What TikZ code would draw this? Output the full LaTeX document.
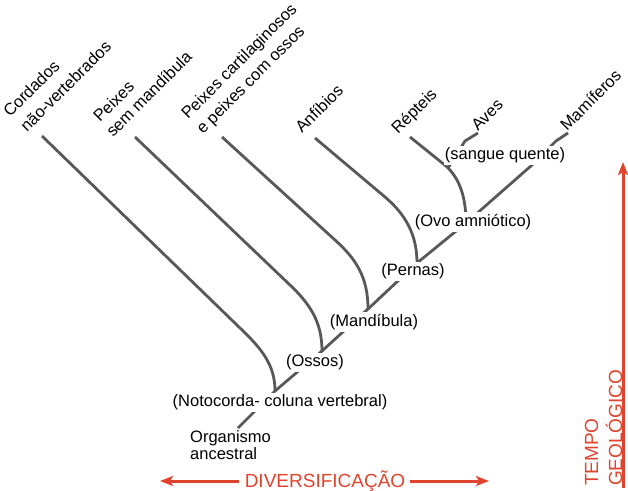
\documentclass[tikz,border=0pt]{standalone}
\usepackage{fontspec}
\setmainfont{Liberation Sans}
\usetikzlibrary{arrows.meta}
\definecolor{branchgray}{RGB}{88,88,88}
\definecolor{accentred}{RGB}{224,68,46}
\begin{document}
\begin{tikzpicture}[x=1pt,y=-1pt,
  branch/.style={draw=branchgray, line width=2.8pt},
  taxon/.style={font=\fontsize{16.5}{20}\selectfont, rotate=45, anchor=base west, inner sep=0pt},
  trait/.style={font=\fontsize{16.5}{20}\selectfont, anchor=base, fill=white, inner xsep=1pt, inner ysep=2pt},
  plain/.style={font=\fontsize{16.5}{20}\selectfont, anchor=base west, inner sep=0pt},
  axislabel/.style={font=\fontsize{19}{23}\selectfont, text=accentred, inner sep=0pt},
  axisarrow/.style={draw=accentred, line width=3pt, -{Stealth[length=13pt,width=10pt,inset=3pt]}}
]
\useasboundingbox (0,0) rectangle (628,490);

% junctions and ends
\coordinate (root) at (238,428);
\coordinate (j1) at (275,391);
\coordinate (j2) at (322,351);
\coordinate (j3) at (368,309);
\coordinate (j4) at (417,263);
\coordinate (j5) at (466,223);
\coordinate (mamtip) at (568,133);
\coordinate (avetip) at (478,133);
\coordinate (avebase) at (448,168);
\coordinate (s1) at (42,136);
\coordinate (s2) at (135,137);
\coordinate (s3) at (222,137);
\coordinate (s4) at (315,138);
\coordinate (s5) at (410,137);

% trunk
\draw[branch] (root) -- (j1) -- (j2) -- (j3) -- (j4) -- (j5) -- (532,165) -- (556,141) -- (mamtip);
% lineages
\draw[branch] (s1) -- (240,328) .. controls (262,349) and (275,365) .. (j1);
\draw[branch] (s2) -- (290,285) .. controls (310,304) and (322,322) .. (j2);
\draw[branch] (s3) -- (335,240) .. controls (356,259) and (368,277) .. (j3);
\draw[branch] (s4) -- (385,197) .. controls (405,214) and (417,234) .. (j4);
\draw[branch] (s5) -- (446,166) .. controls (458,177) and (466,194) .. (j5);
\draw[branch] (avebase) -- (465,141) -- (avetip);

% taxa
\node[taxon] (cord1) at (10,118) {Cordados};
\node[taxon] (cord2) at (27,133) {não-vertebrados};
\node[taxon] (pex1) at (100,123) {Peixes};
\node[taxon] (pex2) at (113,138) {sem mandíbula};
\node[taxon] (cart1) at (188,120) {Peixes cartilaginosos};
\node[taxon] (cart2) at (203,135) {e peixes com ossos};
\node[taxon] (anf) at (302,134) {Anfíbios};
\node[taxon] (rep) at (398,135) {Répteis};
\node[taxon] (ave) at (478,132) {Aves};
\node[taxon] (mam) at (567,132) {Mamíferos};

% traits
\node[trait] (sangue) at (505,159.5) {(sangue quente)};
\node[trait] (ovo) at (473,226.5) {(Ovo amniótico)};
\node[trait] (pernas) at (413,275.5) {(Pernas)};
\node[trait] (mand) at (374,326.5) {(Mandíbula)};
\node[trait] (ossos) at (315,366.5) {(Ossos)};
\node[trait] (noto) at (280,406.5) {(Notocorda- coluna vertebral)};
\node[plain] (org1) at (190,442) {Organismo};
\node[plain] (org2) at (190,459) {ancestral};

% axes
\node[axislabel, anchor=base] (div) at (325,487) {DIVERSIFICAÇÃO};
\coordinate (divleft) at (160,481);
\coordinate (divright) at (489,481);
\draw[axisarrow] (div.west |- divleft) ++(-6,0) -- (divleft);
\draw[axisarrow] (div.east |- divright) ++(5,0) -- (divright);
\node[axislabel, rotate=90, anchor=base west] (tempo) at (598,486) {TEMPO};
\node[axislabel, rotate=90, anchor=base west] (geo) at (622,486) {GEOLÓGICO};
\coordinate (tbottom) at (623,488);
\coordinate (ttop) at (623,162);
\draw[axisarrow] (tbottom) -- (ttop);
\end{tikzpicture}
\end{document}
